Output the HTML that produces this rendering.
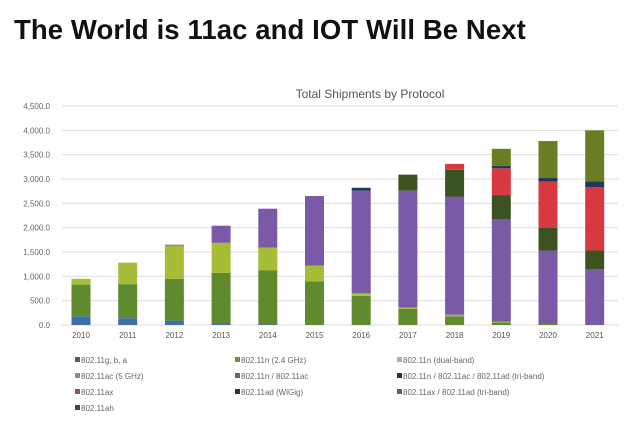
<!DOCTYPE html>
<html><head><meta charset="utf-8"><style>
body{margin:0;width:640px;height:428px;background:#fff;overflow:hidden;font-family:"Liberation Sans",sans-serif}
#h{position:absolute;left:14px;top:14px;font-size:27.5px;font-weight:bold;color:#111;margin:0;letter-spacing:0.1px}
</style></head><body>
<h1 id="h">The World is 11ac and IOT Will Be Next</h1>
<svg id="c" width="640" height="428" style="position:absolute;left:0;top:0"></svg>
<script>
const years=['2010','2011','2012','2013','2014','2015','2016','2017','2018','2019','2020','2021'];
const sGba=[180,140,90,20,10,0,0,0,0,0,0,0];
const sN24=[650,700,860,1050,1110,900,600,330,180,50,30,0];
const sDual=[120,440,680,620,470,320,50,30,30,20,0,0];
const sAc=[0,0,20,350,800,1430,2110,2400,2430,2100,1500,1150];
const sNac=[0,0,0,0,0,0,0,0,0,0,0,0];
const sTri=[0,0,0,0,0,0,0,330,550,500,470,380];
const sAx=[0,0,0,0,0,0,0,0,120,550,950,1300];
const sWig=[0,0,0,0,0,0,60,0,0,50,70,120];
const sAxAd=[0,0,0,0,0,0,0,0,0,350,760,1050];
const sAh=[0,0,0,0,0,0,0,0,0,0,0,0];
const ticks=[0,500,1000,1500,2000,2500,3000,3500,4000,4500];
const series=[
['802.11g, b, a',sGba,'#3f6fa8','#555a66'],['802.11n (2.4 GHz)',sN24,'#5f8a2e','#6f8a4e'],['802.11n (dual-band)',sDual,'#a6bd38','#a8b888'],
['802.11ac (5 GHz)',sAc,'#7a59a6','#8a8a90'],['802.11n / 802.11ac',sNac,'#9aa0a8','#6a6470'],['802.11n / 802.11ac / 802.11ad (tri-band)',sTri,'#3b5320','#333'],
['802.11ax',sAx,'#d8393f','#8a5a5a'],['802.11ad (WiGig)',sWig,'#1f3a5c','#333'],['802.11ax / 802.11ad (tri-band)',sAxAd,'#6b7d24','#5a6a3a'],['802.11ah',sAh,'#333','#444']];
const svg=document.getElementById('c'),NS='http://www.w3.org/2000/svg';
function mk(t,a,p){const e=document.createElementNS(NS,t);for(const k in a)e.setAttribute(k,a[k]);(p||svg).appendChild(e);return e;}
const y=v=>325-v*219/4500, x=i=>81+i*46.7;
let t=mk('text',{x:370,y:98,'font-size':12,fill:'#555','text-anchor':'middle'});t.textContent='Total Shipments by Protocol';


ticks.forEach(v=>{const l=mk('line',{x1:62,x2:618,y1:y(v),y2:y(v),stroke:'#ddd','stroke-width':1});


const tx=mk('text',{x:50,y:y(v)+3,'font-size':8,fill:'#666','text-anchor':'end'});tx.textContent=v.toLocaleString('en-US',{minimumFractionDigits:1});

});
years.forEach((yr,i)=>{let acc=0;series.forEach(s=>{const v=s[1][i];if(v>0){const r=mk('rect',{x:x(i)-9.5,y:y(acc+v),width:19,height:y(acc)-y(acc+v),fill:s[2]});

}acc+=v;});
const tx=mk('text',{x:x(i),y:338,'font-size':8,fill:'#555','text-anchor':'middle'});tx.textContent=yr;

});
const lp=[[75,363],[235,363],[397,363],[75,379],[235,379],[397,379],[75,395],[235,395],[397,395],[75,411]];
series.forEach((s,i)=>{const g=mk('g',{});


mk('rect',{x:lp[i][0],y:lp[i][1]-6,width:5,height:5,fill:s[3]},g);
const tx=mk('text',{x:lp[i][0]+6,y:lp[i][1],'font-size':8,fill:'#666'},g);tx.textContent=s[0];});
</script></body></html>
